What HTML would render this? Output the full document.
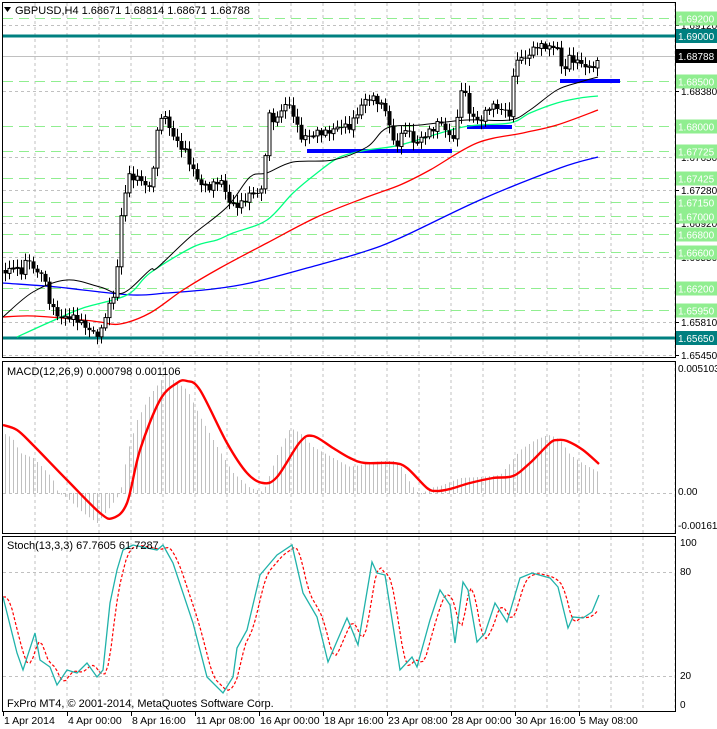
<!DOCTYPE html>
<html><head><meta charset="utf-8"><style>
html,body{margin:0;padding:0;background:#fff;}
svg{display:block;font-family:"Liberation Sans",sans-serif;}
</style></head><body>
<svg id="s" width="717" height="729" xmlns="http://www.w3.org/2000/svg">
<rect width="717" height="729" fill="#fff"/>
<g id="grid"></g>
<g id="levels"></g>
<g id="ma"></g>
<g id="candles"></g>
<g id="ind"></g>
<g id="frames" fill="none" stroke="#000" stroke-width="1">
<rect x="2.5" y="2.5" width="673" height="355"/>
<rect x="2.5" y="361.5" width="673" height="172"/>
<rect x="2.5" y="536.5" width="673" height="175"/>
</g>
<g id="labels" font-size="10"></g>
<text x="15" y="14" font-size="11" fill="#000">GBPUSD,H4  1.68671 1.68814 1.68671 1.68788</text>
<polygon points="4,7 11,7 7.5,12" fill="#000"/>
<text x="7" y="375" font-size="11">MACD(12,26,9) 0.000798 0.001106</text>
<text x="7" y="549" font-size="11">Stoch(13,3,3) 67.7605 61.7287</text>
<text x="7" y="707" font-size="11">FxPro MT4, © 2001-2014, MetaQuotes Software Corp.</text>
</svg>
<script>
(function(){
var NS="http://www.w3.org/2000/svg";
function el(p,t,a,txt){var e=document.createElementNS(NS,t);for(var k in a)e.setAttribute(k,a[k]);if(txt!==undefined)e.textContent=txt;document.getElementById(p).appendChild(e);return e;}
function interp(pts,x){if(x<=pts[0][0])return pts[0][1];for(var i=1;i<pts.length;i++){if(x<=pts[i][0]){var a=pts[i-1],b=pts[i];return a[1]+(b[1]-a[1])*(x-a[0])/(b[0]-a[0]);}}return pts[pts.length-1][1];}
function poly(pts){return pts.map(function(p){return p[0]+","+p[1]}).join(" ");}
function smooth(p){var d="M"+p[0][0]+","+p[0][1];for(var i=0;i<p.length-1;i++){var p0=p[i-1]||p[i],p1=p[i],p2=p[i+1],p3=p[i+2]||p2;
 var c1x=p1[0]+(p2[0]-p0[0])/6,c1y=p1[1]+(p2[1]-p0[1])/6,c2x=p2[0]-(p3[0]-p1[0])/6,c2y=p2[1]-(p3[1]-p1[1])/6;
 d+=" C"+c1x.toFixed(1)+","+c1y.toFixed(1)+" "+c2x.toFixed(1)+","+c2y.toFixed(1)+" "+p2[0]+","+p2[1];}return d;}
for(var x=35;x<676;x+=32){
 el("grid","line",{x1:x,y1:3,x2:x,y2:357,stroke:"#c0c0c0","stroke-dasharray":"3,3"});
 el("grid","line",{x1:x,y1:362,x2:x,y2:533,stroke:"#c0c0c0","stroke-dasharray":"3,3"});
 el("grid","line",{x1:x,y1:537,x2:x,y2:711,stroke:"#c0c0c0","stroke-dasharray":"3,3"});
}
var gl=[[25,"1.69120"],[91,"1.68380"],[157,"1.67650"],[190,"1.67280"],[223,"1.66920"],[257,"1.66550"],[322,"1.65810"],[355,"1.65450"]];
gl.forEach(function(g){el("grid","line",{x1:3,y1:g[0]+.5,x2:675,y2:g[0]+.5,stroke:"#c0c0c0","stroke-dasharray":"3,3"});
 el("labels","line",{x1:675,y1:g[0]+.5,x2:679,y2:g[0]+.5,stroke:"#000"});
 el("labels","text",{x:681,y:g[0]+4},g[1]);});
[493,572,676].forEach(function(g){el("grid","line",{x1:3,y1:g+.5,x2:675,y2:g+.5,stroke:"#c0c0c0","stroke-dasharray":"3,3"});});
el("labels","text",{x:678,y:372},"0.005103");
el("labels","text",{x:678,y:495},"0.00");
el("labels","text",{x:678,y:529},"-0.00161");
el("labels","text",{x:680,y:546},"100");
el("labels","text",{x:680,y:575},"80");
el("labels","text",{x:680,y:679},"20");
el("labels","text",{x:680,y:708},"0");
var lv=[[18,"1.69200"],[81,"1.68500"],[126,"1.68000"],[150.5,"1.67725"],[177.5,"1.67425"],[202,"1.67150"],[215.5,"1.67000"],[233.5,"1.66800"],[251.5,"1.66600"],[287.5,"1.66200"],[310,"1.65950"]];
lv.forEach(function(l){var y=Math.round(l[0])+.5;
 el("levels","line",{x1:3,y1:y,x2:675,y2:y,stroke:"#90ee90","stroke-dasharray":"10,6"});
 el("labels","rect",{x:676,y:y-7,width:41,height:14,fill:"#90ee90"});
 el("labels","text",{x:678,y:y+4,fill:"#fff"},l[1]);});
el("levels","line",{x1:3,y1:56.5,x2:675,y2:56.5,stroke:"#c0c0c0"});
el("labels","rect",{x:676,y:49,width:41,height:14,fill:"#000"});
el("labels","text",{x:678,y:60,fill:"#fff"},"1.68788");
[[36,"1.69000"],[338,"1.65650"]].forEach(function(l){
 el("levels","line",{x1:3,y1:l[0],x2:676,y2:l[0],stroke:"#008080","stroke-width":3});
 el("labels","rect",{x:676,y:l[0]-7,width:41,height:14,fill:"#008080"});
 el("labels","text",{x:678,y:l[0]+4,fill:"#fff"},l[1]);});
[[307,452,151],[467,512,127],[560,620,81]].forEach(function(b){el("levels","line",{x1:b[0],y1:b[2],x2:b[1],y2:b[2],stroke:"#0000ff","stroke-width":4});});
var black=[[3,317],[33,292],[67,280],[100,287],[123,293],[150,270],[157,268],[190,237],[227,207],[250,177],[267,173],[293,162],[333,160],[367,147],[387,128],[420,125],[467,120],[510,120],[530,110],[557,90],[580,82],[598,77]];
var green=[[17,337],[50,322],[83,308],[127,295],[150,273],[193,247],[217,240],[233,233],[267,220],[293,193],[317,173],[340,157],[367,150],[400,145],[463,127],[510,123],[530,113],[557,103],[580,98],[598,96]];
var red=[[3,317],[33,316],[83,320],[100,322],[120,324],[150,313],[183,290],[220,268],[267,243],[317,217],[367,197],[400,185],[430,170],[477,143],[523,133],[557,125],[598,110]];
var blue=[[3,283],[57,287],[83,290],[133,295],[167,293],[213,289],[250,283],[307,268],[360,253],[400,238],[480,200],[560,168],[598,157]];
el("ma","path",{d:smooth(blue),fill:"none",stroke:"#0000ff","stroke-width":1.3});
el("ma","path",{d:smooth(red),fill:"none",stroke:"#ff0000","stroke-width":1.3});
el("ma","path",{d:smooth(green),fill:"none",stroke:"#00ff7f","stroke-width":1.3});
el("ma","path",{d:smooth(black),fill:"none",stroke:"#000","stroke-width":1});
var cp=[[5,270],[12,265],[20,278],[28,262],[35,275],[42,268],[50,300],[60,318],[70,322],[80,325],[90,328],[100,330],[105,312],[115,295],[122,210],[128,180],[140,175],[150,185],[158,125],[162,115],[168,130],[175,145],[185,150],[200,180],[210,190],[220,185],[230,205],[240,200],[250,190],[262,195],[268,120],[275,125],[285,100],[292,105],[300,135],[310,140],[325,135],[340,120],[350,125],[365,105],[375,100],[385,105],[395,145],[405,130],[415,150],[425,135],[440,115],[448,135],[455,140],[462,85],[468,115],[478,120],[490,100],[500,110],[510,120],[515,60],[520,62],[530,50],[535,40],[545,45],[550,50],[558,52],[562,80],[568,60],[580,58],[590,65],[596,62],[600,56]];
var prev=interp(cp,1);
for(var x=5;x<=600;x+=4){
 var c=interp(cp,x)+Math.sin(x*1.7)*5+Math.cos(x*0.9)*3;
 if(x>=596)c=interp(cp,x);
 var o=prev;prev=c;
 var tp=Math.min(o,c),bt=Math.max(o,c);
 var hi=tp-2-Math.abs(Math.sin(x*2.3))*6,lo=bt+2+Math.abs(Math.cos(x*1.3))*6;
 el("candles","line",{x1:x+.5,y1:hi.toFixed(1),x2:x+.5,y2:lo.toFixed(1),stroke:"#000"});
 var h=Math.max(1,bt-tp);
 if(c<o) el("candles","rect",{x:x-1,y:tp.toFixed(1),width:3,height:h.toFixed(1),fill:"#fff",stroke:"#000","stroke-width":1});
 else el("candles","rect",{x:x-1.5,y:tp.toFixed(1),width:4,height:h.toFixed(1),fill:"#000"});
}
var hist=[[3,433],[12,438],[20,453],[33,458],[43,468],[52,478],[58,493],[67,498],[83,513],[97,523],[110,507],[120,493],[127,453],[137,420],[150,395],[167,372],[173,380],[187,390],[200,417],[217,447],[233,473],[250,488],[263,492],[277,455],[290,428],[300,433],[313,447],[333,458],[350,467],[380,461],[393,461],[400,465],[410,483],[415,490],[420,495],[430,488],[440,486],[460,478],[480,477],[500,475],[510,463],[520,450],[535,440],[545,436],[550,435],[560,440],[570,455],[585,465],[600,473]];
for(var x=5;x<=600;x+=4){var y=interp(hist,x);el("ind","line",{x1:x+.5,y1:493,x2:x+.5,y2:y,stroke:"#c0c0c0"});}
var sig=[[3,425],[17,430],[33,445],[67,480],[100,513],[113,518],[127,503],[140,450],[160,400],[177,383],[187,381],[200,390],[227,443],[247,473],[263,483],[277,477],[300,442],[313,436],[333,448],[350,458],[365,463],[393,463],[407,468],[427,488],[437,491],[450,489],[470,483],[493,478],[513,476],[530,463],[550,443],[558,440],[567,441],[583,450],[599,464]];
el("ind","path",{d:smooth(sig),fill:"none",stroke:"#ff0000","stroke-width":2.4,"stroke-linejoin":"round"});
var st=[[3,597],[17,653],[23,670],[35,633],[40,660],[50,667],[57,685],[67,670],[77,673],[87,663],[97,677],[103,670],[110,603],[117,570],[123,550],[133,545],[157,550],[163,545],[173,563],[193,623],[207,677],[223,693],[233,677],[237,648],[247,630],[260,575],[277,555],[292,545],[303,593],[317,617],[328,662],[347,618],[350,625],[358,645],[372,562],[377,573],[385,575],[400,670],[412,657],[417,667],[430,620],[440,590],[450,605],[455,643],[463,582],[468,590],[477,642],[485,633],[495,603],[507,622],[520,578],[532,573],[550,578],[558,587],[568,628],[573,617],[583,618],[592,612],[599,595]];
var sd=[];for(var x=3;x<=599;x+=3){var v=(interp(st,x-3)+interp(st,x-6)+interp(st,x-9))/3;sd.push([x,v.toFixed(1)]);}
el("ind","polyline",{points:poly(sd),fill:"none",stroke:"#ff0000","stroke-width":1.2,"stroke-dasharray":"3,2"});
el("ind","polyline",{points:poly(st),fill:"none",stroke:"#20b2aa","stroke-width":1.3});
var tl=[[3,"1 Apr 2014"],[67,"4 Apr 00:00"],[131,"8 Apr 16:00"],[195,"11 Apr 08:00"],[259,"16 Apr 00:00"],[323,"18 Apr 16:00"],[387,"23 Apr 08:00"],[451,"28 Apr 00:00"],[515,"30 Apr 16:00"],[579,"5 May 08:00"]];
tl.forEach(function(t){el("labels","line",{x1:t[0]+.5,y1:711,x2:t[0]+.5,y2:716,stroke:"#000"});el("labels","text",{x:t[0]+1,y:724,"font-size":"10.5"},t[1]);});
})();
</script>
</body></html>
